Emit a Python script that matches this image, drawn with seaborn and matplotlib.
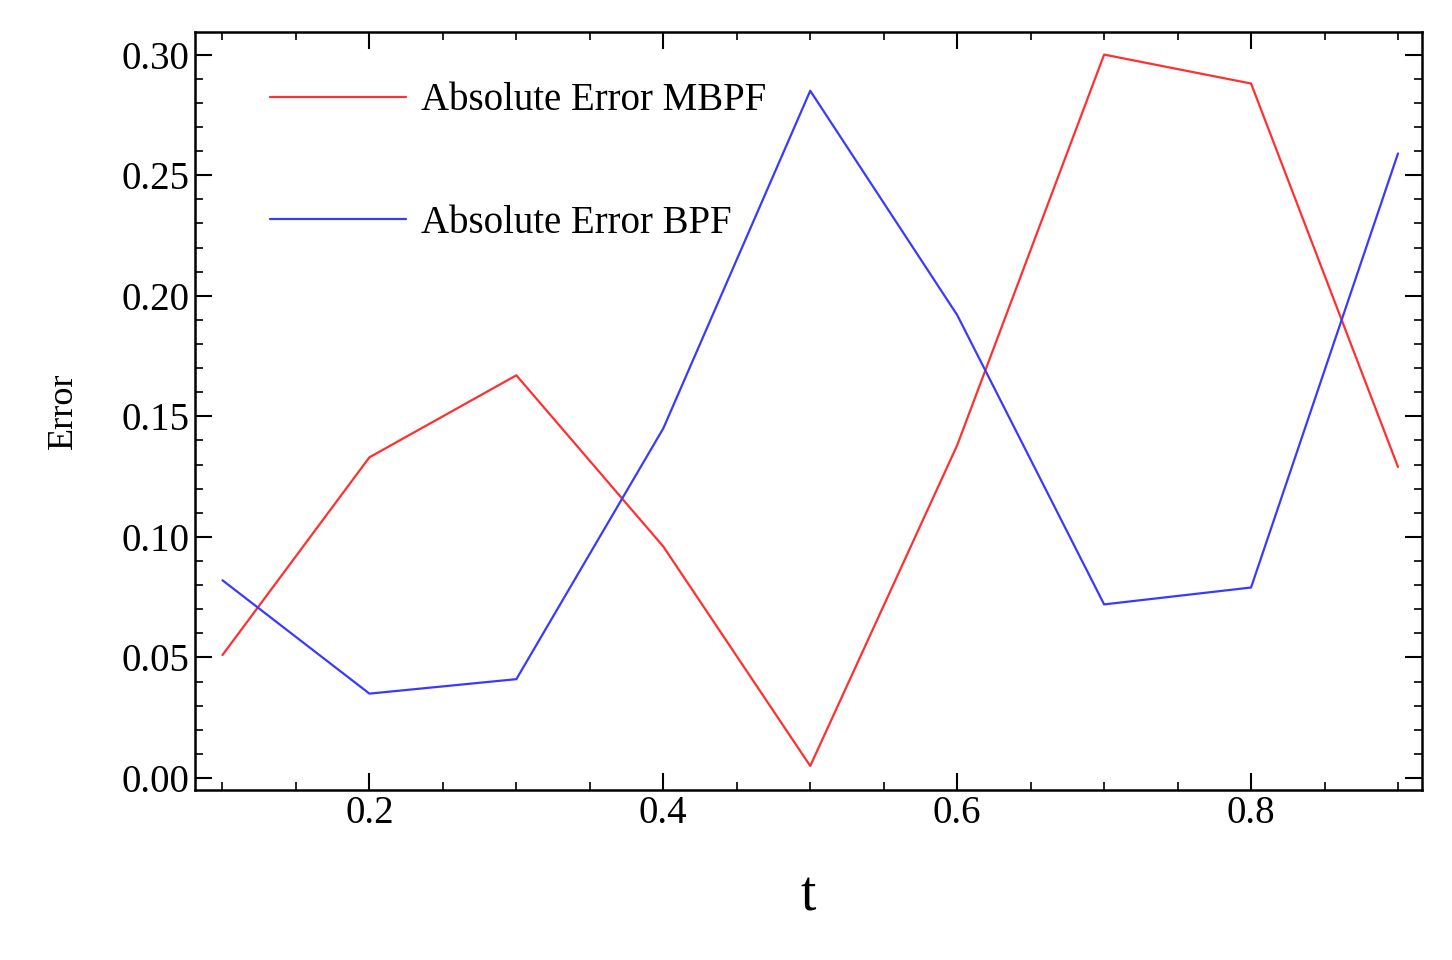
import matplotlib
matplotlib.use("Agg")
import matplotlib.pyplot as plt
from matplotlib.ticker import MultipleLocator
import pandas as pd
import seaborn as sns

T = [0.1, 0.2, 0.3, 0.4, 0.5, 0.6, 0.7, 0.8, 0.9]
ERR_MBPF = [0.051, 0.133, 0.167, 0.096, 0.005, 0.138, 0.300, 0.288, 0.129]
ERR_BPF = [0.082, 0.035, 0.041, 0.145, 0.285, 0.192, 0.072, 0.079, 0.259]

sns.set_theme(style="ticks")
plt.rcParams["font.family"] = ["Liberation Serif", "DejaVu Serif"]
plt.rcParams["text.color"] = "black"
plt.rcParams["axes.labelcolor"] = "black"
plt.rcParams["xtick.color"] = "black"
plt.rcParams["ytick.color"] = "black"

df = pd.DataFrame({
    "t": T * 2,
    "Error": ERR_MBPF + ERR_BPF,
    "series": ["Absolute Error MBPF"] * len(T) + ["Absolute Error BPF"] * len(T),
})

fig = plt.figure(figsize=(14.52, 9.6), dpi=100)
ax = fig.add_axes([0.134, 0.177, 0.845, 0.79])
sns.lineplot(
    data=df, x="t", y="Error", hue="series",
    palette={"Absolute Error MBPF": "#ff3030", "Absolute Error BPF": "#3a3aff"},
    linewidth=1.6, ax=ax,
)
ax.set_xlim(0.081, 0.916)
ax.set_ylim(-0.005, 0.3095)
ax.xaxis.set_major_locator(MultipleLocator(0.2))
ax.xaxis.set_minor_locator(MultipleLocator(0.05))
ax.yaxis.set_major_locator(MultipleLocator(0.05))
ax.yaxis.set_minor_locator(MultipleLocator(0.01))
ax.tick_params(which="both", direction="in", top=True, right=True, labelsize=28)
ax.tick_params(which="major", length=12, width=1.5)
ax.tick_params(which="minor", length=6, width=1.2)
ax.yaxis.set_major_formatter(matplotlib.ticker.FormatStrFormatter("%.2f"))
ax.xaxis.set_major_formatter(matplotlib.ticker.FormatStrFormatter("%.1f"))
for s in ax.spines.values():
    s.set_linewidth(1.8)
    s.set_color("black")
ax.set_xlabel("t", fontsize=40, labelpad=28)
ax.set_ylabel("Error", fontsize=26, labelpad=30)
ax.legend(loc="upper left", frameon=False, fontsize=28, handlelength=3.5,
          handletextpad=0.4, labelspacing=2.2, borderaxespad=0.9,
          bbox_to_anchor=(0.02, 1.0))
fig.savefig("out.png", dpi=100)
